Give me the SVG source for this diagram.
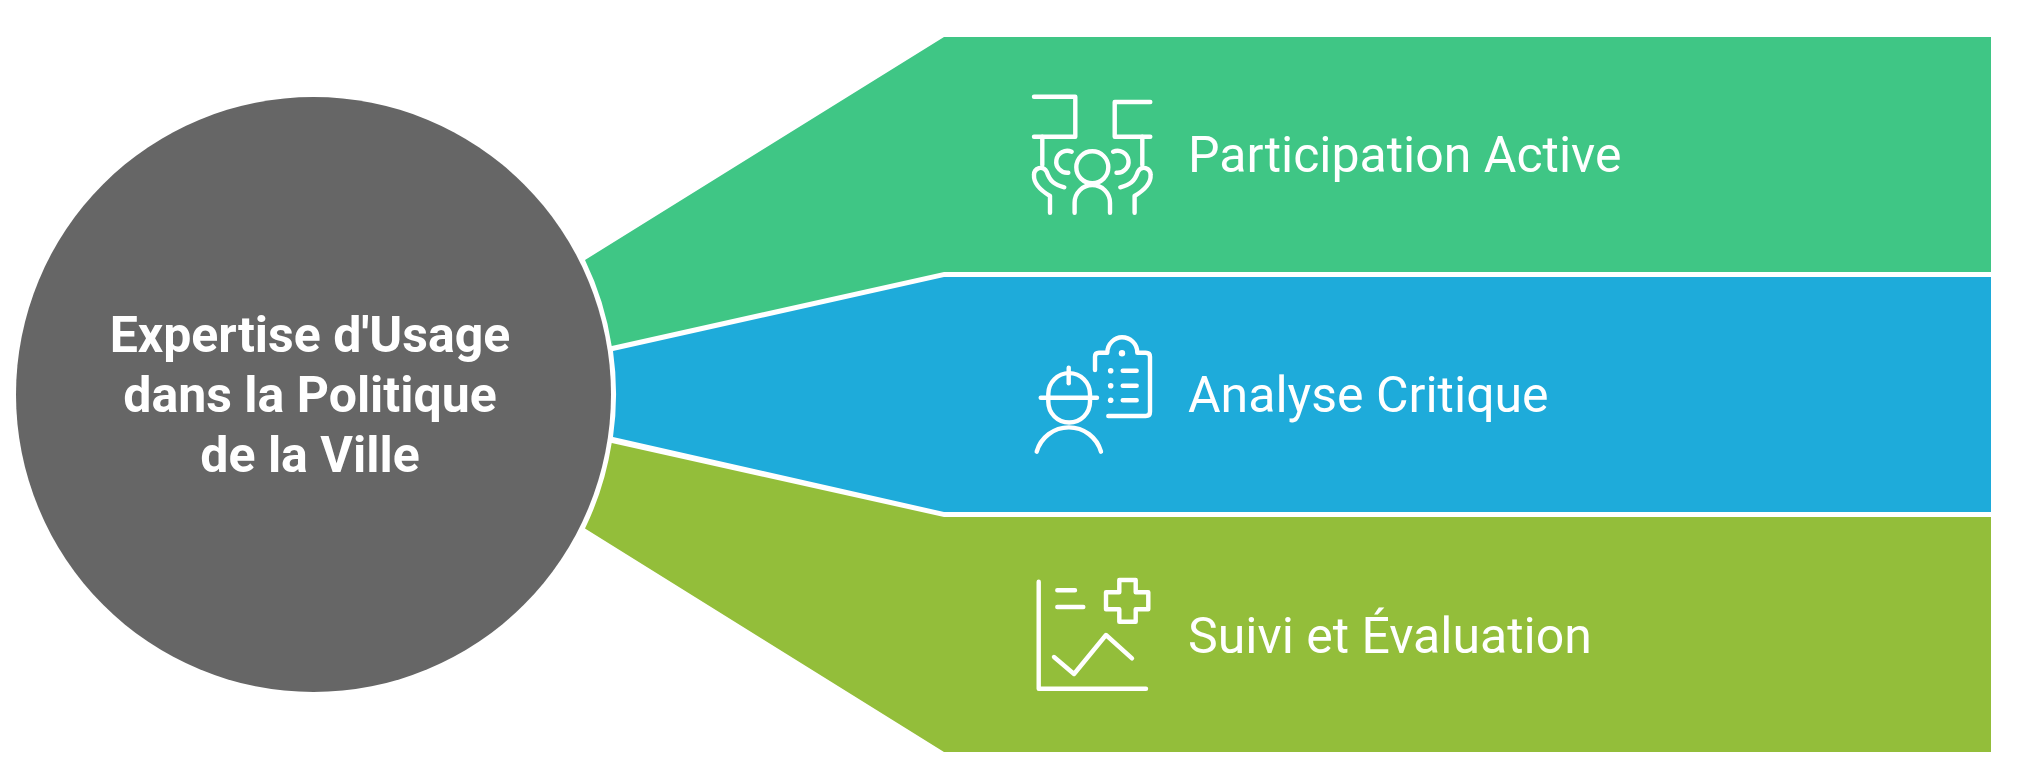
<svg xmlns="http://www.w3.org/2000/svg" width="2022" height="776" viewBox="0 0 2022 776">
<style>
.ic{fill:none;stroke:#fff;stroke-width:4.4;stroke-linecap:round;stroke-linejoin:round}
.dot{fill:#fff}
.lb{font-family:Roboto,"Liberation Sans",sans-serif;font-size:50px;fill:#fff}
.tt{font-family:Roboto,"Liberation Sans",sans-serif;font-size:50px;font-weight:700;fill:#fff;text-anchor:middle}
</style>
<rect width="2022" height="776" fill="#fff"/>
<g id="connectors"></g>
<g id="node-participation">
<path fill="#3fc685" d="M585 260L944 37H1991V272H944L611.7 346A302.5 302.5 0 0 0 585 260Z"/>
<g class="ic">
<path d="M1034 96.7H1075.3V136.7H1034"/>
<path d="M1150.3 102H1114.7V136.7H1150.3"/>
<path d="M1042.3 136.7V165M1142.3 136.7V165"/>
<circle cx="1092.3" cy="167.3" r="16"/>
<path d="M1074.6 212.7V202.7A17.7 17.7 0 0 1 1110 202.7V212.7"/>
<path d="M1071.7 151.7A11 11 0 1 0 1068.3 172.7"/>
<path d="M1113.1 151.7A11 11 0 1 1 1116.5 172.7"/>
<path d="M1050 212.7V196C1040 190 1033.5 183 1034 175C1034 168 1043 165 1046.7 171.7C1050 181.7 1055 185 1064.3 187.3"/>
<path d="M1134.6 212.7V196C1144.6 190 1151.1 183 1150.6 175C1150.6 168 1141.6 165 1137.9 171.7C1134.6 181.7 1129.6 185 1120.3 187.3"/>
</g>
<text class="lb" x="1188" y="172">Participation Active</text>
</g>
<g id="node-analyse">
<path fill="#1eabda" d="M613 351L944 277H1991V512H944L613 437A302.5 302.5 0 0 0 613 351Z"/>
<g class="ic">
<path d="M1095 370V356.7Q1095 352.7 1099 352.7H1107.3C1107.3 343.3 1115 337.3 1122 337.3C1130 337.3 1137.3 343.3 1137.3 352.7H1145.7Q1150 352.7 1150 356.7V411.7Q1150 416 1145.7 416H1108.3"/>
<path d="M1122.7 370.7H1136.7M1122.7 385.7H1136.7M1122.7 400.3H1136.7"/>
<path d="M1040.7 397.7H1097"/>
<path d="M1048.3 397.7V394A20.8 20.8 0 0 1 1090 394V397.7"/>
<path d="M1048.3 397.7V401.7A20.8 20.8 0 0 0 1090 401.7V397.7"/>
<path d="M1068.7 367.7V383.3"/>
<path d="M1036.7 451.7A33.4 33.4 0 0 1 1101 451.7"/>
</g>
<circle class="dot" cx="1122" cy="353.3" r="3.2"/>
<circle class="dot" cx="1110.7" cy="370.7" r="2.8"/>
<circle class="dot" cx="1110.7" cy="385.7" r="2.8"/>
<circle class="dot" cx="1110.7" cy="400.3" r="2.8"/>
<text class="lb" x="1188" y="412">Analyse Critique</text>
</g>
<g id="node-suivi">
<path fill="#93be3a" d="M611.7 443L944 517H1991V752H944L585 528.5A302.5 302.5 0 0 0 611.7 443Z"/>
<g class="ic">
<path d="M1038.7 581.7V688.7H1146"/>
<path d="M1057.3 590.3H1075M1057.3 607H1083.3"/>
<path d="M1119.3 580H1135.7V592.3H1148.3V609.3H1135.7V621.7H1119.3V609.3H1106V592.3H1119.3Z"/>
<path d="M1054 657L1074 674L1106 635L1132 658.3"/>
</g>
<text class="lb" x="1188" y="652.5">Suivi et Évaluation</text>
</g>
<g id="node-center">
<circle cx="313.5" cy="394.5" r="297.5" fill="#666"/>
<text class="tt" x="310" y="352">Expertise d'Usage</text>
<text class="tt" x="310" y="412">dans la Politique</text>
<text class="tt" x="310" y="472">de la Ville</text>
</g>
</svg>
